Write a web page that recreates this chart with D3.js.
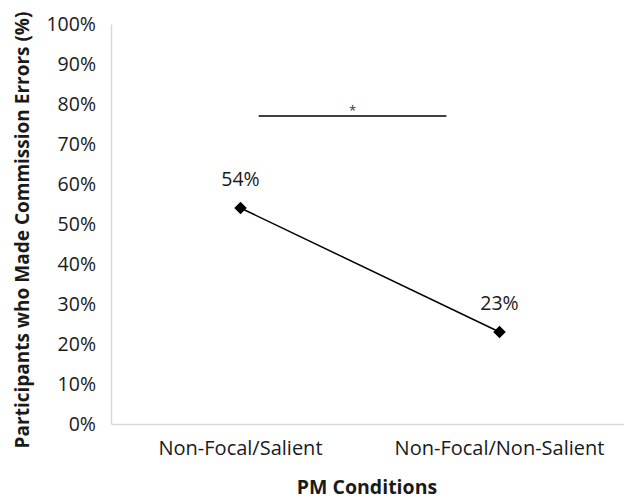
<!DOCTYPE html>
<html><head><meta charset="utf-8">
<script src="https://cdn.jsdelivr.net/npm/d3@7"></script>
<style>body{margin:0;background:#fff}svg{display:block}text{font-family:"Open Sans",sans-serif}</style>
</head><body><svg id="c" width="624" height="499"></svg>
<script>
const categories = ["Non-Focal/Salient", "Non-Focal/Non-Salient"];
const values = [0.54, 0.23];
const valueLabels = ["54%", "23%"];
const yTicks = [0,0.1,0.2,0.3,0.4,0.5,0.6,0.7,0.8,0.9,1.0];
const sigLevel = [0.77];
const sigLabel = ["*"];

const svg = d3.select("#c");
const m = {l:111, r:629, t:24, b:424};
const x = d3.scaleBand().domain(categories).range([m.l, m.r]);
const y = d3.scaleLinear().domain([0,1]).range([m.b, m.t]);
const cx = d => x(d) + x.bandwidth()/2;

// axes
const ya = svg.append("g").attr("transform",`translate(${m.l},0)`)
  .call(d3.axisLeft(y).tickValues(yTicks).tickFormat(d3.format(".0%")).tickSize(0).tickPadding(15));
ya.select(".domain").attr("stroke","#d9d9d9").attr("stroke-width",1.5);
ya.selectAll("text").attr("font-size",19.5).attr("fill","#1a1a1a");

const xa = svg.append("g").attr("transform",`translate(0,${m.b})`)
  .call(d3.axisBottom(x).tickSize(0).tickPadding(17));
xa.select(".domain").attr("stroke","#d9d9d9").attr("stroke-width",1.5);
xa.selectAll("text").attr("font-size",20).attr("fill","#1a1a1a");

// line
const line = d3.line().x((d,i)=>cx(categories[i])).y(d=>y(d));
svg.append("path").datum(values).attr("d",line).attr("fill","none").attr("stroke","#000").attr("stroke-width",1.5);
svg.selectAll(".pt").data(values).enter().append("path")
  .attr("transform",(d,i)=>`translate(${cx(categories[i])},${y(d)})`)
  .attr("d",d3.symbol(d3.symbolDiamond2, 100)).attr("fill","#000");
svg.selectAll(".lbl").data(values).enter().append("text")
  .attr("x",(d,i)=>cx(categories[i])).attr("y",d=>y(d)-22)
  .attr("text-anchor","middle").attr("font-size",19.5).attr("fill","#1a1a1a")
  .text((d,i)=>valueLabels[i]);

// significance line
const x1 = cx(categories[0]) + x.bandwidth()*0.07;
const x2 = cx(categories[1]) - x.bandwidth()*0.205;
svg.append("line").attr("x1",x1).attr("x2",x2).attr("y1",y(sigLevel[0])).attr("y2",y(sigLevel[0]))
  .attr("stroke","#000").attr("stroke-width",1.3);
svg.append("text").attr("x",(x1+x2)/2).attr("y",y(sigLevel[0])-1).attr("text-anchor","middle")
  .attr("font-size",13).attr("fill","#333").text(sigLabel[0]);

// titles
svg.append("text").attr("x",(m.l+m.r)/2 - 3).attr("y",494).attr("text-anchor","middle")
  .attr("font-size",19.5).attr("font-weight","bold").attr("fill","#1a1a1a").text("PM Conditions");
svg.append("text").attr("transform",`translate(29,${(m.t+m.b)/2 + 6}) rotate(-90)`).attr("text-anchor","middle")
  .attr("font-size",19).attr("font-weight","bold").attr("fill","#1a1a1a").text("Participants who Made  Commission Errors (%)");
</script></body></html>
